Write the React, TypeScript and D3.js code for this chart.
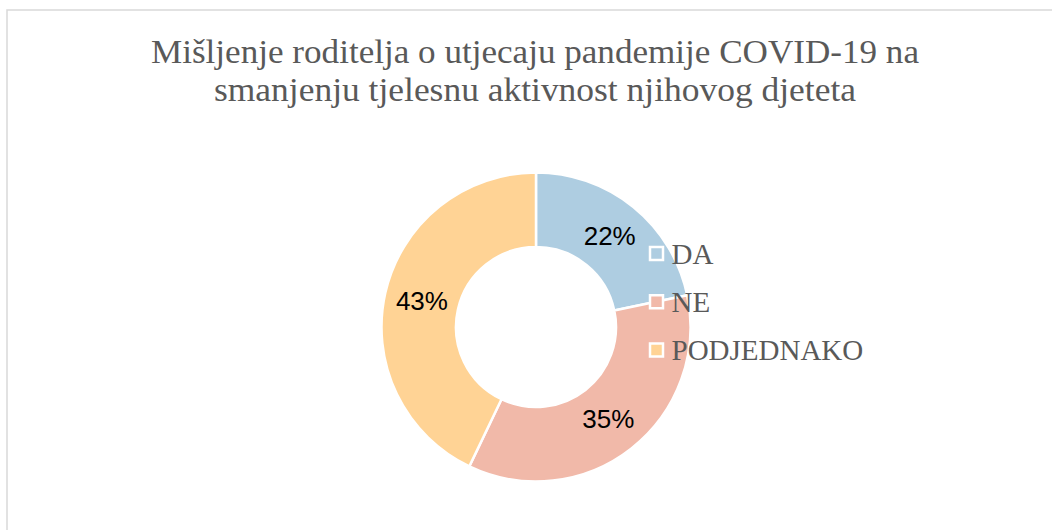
import * as React from "react";
import * as d3 from "d3";

// chart data
const categories: string[] = ["DA", "NE", "PODJEDNAKO"];
const shares: number[] = [21.7, 35.4, 42.9];
const sliceColors: string[] = ["#aecde1", "#f1b9a9", "#ffd395"];
const titleLines: string[] = [
    "Mišljenje roditelja o utjecaju pandemije COVID-19 na",
    "smanjenju tjelesnu aktivnost njihovog djeteta"
];
const titleWidths: number[] = [768, 642];

const width = 1052;
const height = 530;

export default function App() {
    let cx = 536, cy = 327;
    let outerRadius = 154.5;
    let innerRadius = 80;

    let total = d3.sum(shares);
    let pie = d3.pie<number>().sort(null).value(d => d);
    let arcs = pie(shares);
    let arcGen = d3.arc<d3.PieArcDatum<number>>().innerRadius(innerRadius).outerRadius(outerRadius);
    let labelArc = d3.arc<d3.PieArcDatum<number>>().innerRadius(117).outerRadius(117);

    let color = d3.scaleOrdinal<string, string>().domain(categories).range(sliceColors);
    let legendY = d3.scalePoint<string>().domain(categories).range([253.5, 350]);

    let serif = "'Liberation Serif', 'Times New Roman', serif";
    let sans = "'Liberation Sans', Arial, sans-serif";

    return (
        <div style={{ position: "absolute", left: 0, top: 0 }}>
            <svg width={width} height={height} style={{ display: "block", background: "#fff" }}>
                <rect x={7} y={10} width={width + 20} height={height + 20} fill="#fff" stroke="#d9d9d9" strokeWidth={1.5} />

                <g fontFamily={serif} fill="#595959" fontSize={33} textAnchor="middle">
                    {titleLines.map((line, i) => (
                        <text key={i} x={535} y={62.5 + i * 38.5}
                            textLength={titleWidths[i]} lengthAdjust="spacingAndGlyphs">{line}</text>
                    ))}
                </g>

                <g transform={`translate(${cx}, ${cy})`}>
                    {arcs.map((arc, i) => (
                        <path key={i} d={arcGen(arc) || ""} fill={color(categories[i])} stroke="#fff" strokeWidth={2.5} />
                    ))}
                    {arcs.map((arc, i) => {
                        let [lx, ly] = labelArc.centroid(arc);
                        return (
                            <text key={"l" + i} x={lx} y={ly} dy="0.35em" textAnchor="middle"
                                fontFamily={sans} fontSize={26} fill="#000">
                                {Math.round(arc.data / total * 100)}%
                            </text>
                        );
                    })}
                </g>

                <g>
                    {categories.map((cat, i) => {
                        let y = legendY(cat) || 0;
                        return (
                            <g key={cat}>
                                <rect x={650} y={y - 6.5} width={13} height={13} fill={color(cat)} stroke="#fff" strokeWidth={2.5} />
                                <text x={671.5} y={y} dy="0.35em" fontFamily={serif} fontSize={29} fill="#595959">{cat}</text>
                            </g>
                        );
                    })}
                </g>
            </svg>
        </div>
    );
}
